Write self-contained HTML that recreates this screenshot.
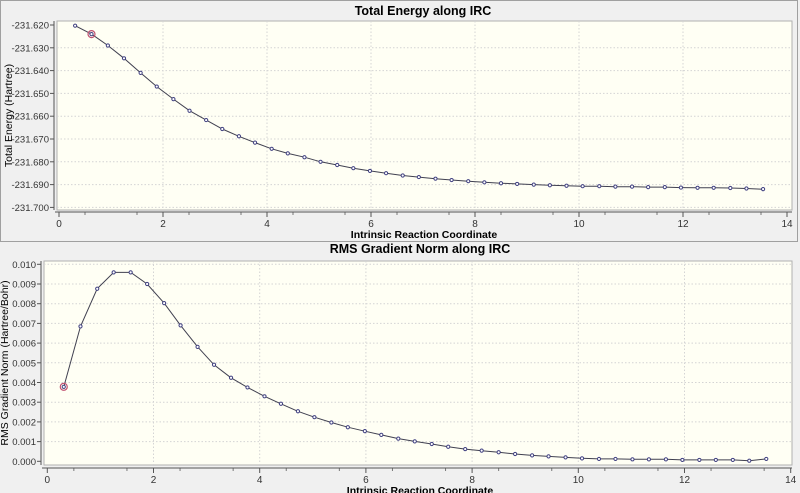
<!DOCTYPE html>
<html><head><meta charset="utf-8"><style>
body{margin:0;background:#f0f0f0;}
svg{display:block;font-family:"Liberation Sans",Arial,sans-serif;}
</style></head><body>
<svg id="c" width="800" height="493" xmlns="http://www.w3.org/2000/svg">
<rect x="0" y="0" width="800" height="493" fill="#f0f0f0"/>
<rect x="0.5" y="0.5" width="797" height="241" fill="none" stroke="#a0a0a0"/>
<text x="423" y="15" font-size="12.5" font-weight="bold" text-anchor="middle">Total Energy along IRC</text>
<text x="420" y="253" font-size="12.5" font-weight="bold" text-anchor="middle">RMS Gradient Norm along IRC</text>
<g id="g1"></g><g id="g2"></g>
</svg>
<script>
const ircX=[0.31,0.625,0.94,1.25,1.57,1.88,2.20,2.51,2.83,3.14,3.46,3.77,4.09,4.40,4.72,5.03,5.35,5.66,5.98,6.29,6.61,6.92,7.24,7.55,7.87,8.18,8.50,8.81,9.13,9.44,9.76,10.07,10.39,10.70,11.02,11.33,11.65,11.96,12.28,12.59,12.91,13.22,13.54];
const energyVals=[-231.6203,-231.6240,-231.6290,-231.6346,-231.6410,-231.6470,-231.6525,-231.6576,-231.6617,-231.6656,-231.6688,-231.6716,-231.6743,-231.6763,-231.6780,-231.6800,-231.6814,-231.6828,-231.6840,-231.6850,-231.6860,-231.6867,-231.6874,-231.6880,-231.6885,-231.6890,-231.6894,-231.6897,-231.6900,-231.6903,-231.6905,-231.6907,-231.6907,-231.6909,-231.6909,-231.6911,-231.6911,-231.6913,-231.6914,-231.6914,-231.6915,-231.6917,-231.6920];
const gradVals=[0.00378,0.00685,0.00876,0.00959,0.00959,0.00900,0.00803,0.00690,0.00581,0.00490,0.00424,0.00375,0.00330,0.00292,0.00254,0.00224,0.00197,0.00173,0.00153,0.00134,0.00115,0.00101,0.00088,0.00074,0.00062,0.00054,0.00046,0.00037,0.00030,0.00025,0.00020,0.00015,0.00012,0.00012,0.00010,0.00010,0.00010,0.00007,0.00007,0.00007,0.00007,0.00003,0.00012];
const xTicks=[0,2,4,6,8,10,12,14];
const energyTicks=[-231.620,-231.630,-231.640,-231.650,-231.660,-231.670,-231.680,-231.690,-231.700];
const gradTicks=[0,0.001,0.002,0.003,0.004,0.005,0.006,0.007,0.008,0.009,0.010];
const NS='http://www.w3.org/2000/svg';
function mk(p,t,a){const e=document.createElementNS(NS,t);for(const k in a)e.setAttribute(k,a[k]);p.appendChild(e);return e;}
function chart(g,o){
  const X=v=>o.x0+v*o.xs, Y=o.Y;
  const bg=mk(g,'rect',{x:o.l,y:o.t,width:o.r-o.l,height:o.b-o.t,fill:'#fffff4',stroke:'#b0b0b0'});
  
  
  xTicks.forEach(v=>{
    if(v>0&&v<14){const gl=mk(g,'line',{x1:X(v),x2:X(v),y1:o.t,y2:o.b,stroke:'#d4d4d4','stroke-dasharray':'1.5,2'});
    
    }
    const tk=mk(g,'line',{x1:X(v),x2:X(v),y1:o.ax,y2:o.ax+5,stroke:'#555'});
    
    
    const tl=mk(g,'text',{x:X(v),y:o.ax+15,'font-size':10,'text-anchor':'middle',fill:'#333'});tl.textContent=v;
    
    
  });
  for(let v=0.5;v<14;v+=1){mk(g,'line',{x1:X(v),x2:X(v),y1:o.ax,y2:o.ax+3,stroke:'#777'});}
  const ax=mk(g,'line',{x1:o.l-2,x2:o.r,y1:o.ax,y2:o.ax,stroke:'#555'});
  
  
  const ay=mk(g,'line',{x1:o.l-3,x2:o.l-3,y1:o.t,y2:o.b,stroke:'#555'});
  
  
  o.yt.forEach((v,i)=>{
    const y=Y(v);
    if(i>0){const gl=mk(g,'line',{x1:o.l,x2:o.r,y1:y,y2:y,stroke:'#d4d4d4','stroke-dasharray':'1.5,2'});
    
    }
    mk(g,'line',{x1:o.l-7,x2:o.l-3,y1:y,y2:y,stroke:'#555'});
    const tl=mk(g,'text',{x:o.l-8,y:y+3.5,'font-size':9.5,'text-anchor':'end',fill:'#333'});tl.textContent=o.fmt(v);
    
    
  });
  const pts=ircX.map((x,i)=>X(x).toFixed(1)+','+Y(o.vals[i]).toFixed(1)).join(' ');
  const ln=mk(g,'polyline',{points:pts,fill:'none',stroke:'#404050','stroke-width':1});
  
  
  ircX.forEach((x,i)=>{
    const c=mk(g,'circle',{cx:X(x),cy:Y(o.vals[i]),r:1.6,fill:'#fff',stroke:'#404080','stroke-width':1});
    
    
  });
  const hp=o.hl;
  mk(g,'circle',{cx:X(ircX[hp]),cy:Y(o.vals[hp]),r:3.5,fill:'none',stroke:'#c05070','stroke-width':1.2});
  const xt=mk(g,'text',{x:o.xtx,y:o.ax+26,'font-size':10.5,'font-weight':'bold','text-anchor':'middle'});xt.textContent='Intrinsic Reaction Coordinate';
  
  
  const yt=mk(g,'text',{x:0,y:0,'font-size':10.5,'text-anchor':'middle',transform:`translate(${o.ytx},${(o.t+o.b)/2}) rotate(-90)`});yt.textContent=o.ytitle;
  
  
}
chart(document.getElementById('g1'),{pre:'energy',l:57,r:792,t:21,b:210,ax:212,x0:59,xs:52,
  Y:v=>25+(-231.620-v)/0.01*22.8,yt:energyTicks,fmt:v=>v.toFixed(3),vals:energyVals,hl:1,
  xtx:424,ytx:12,ytitle:'Total Energy (Hartree)'});
chart(document.getElementById('g2'),{pre:'gradient',l:44,r:792,t:261,b:465,ax:468,x0:47.3,xs:53.1,
  Y:v=>461.3-v*19700,yt:gradTicks,fmt:v=>v.toFixed(3),vals:gradVals,hl:0,
  xtx:420,ytx:8,ytitle:'RMS Gradient Norm (Hartree/Bohr)'});
</script>
</body></html>
